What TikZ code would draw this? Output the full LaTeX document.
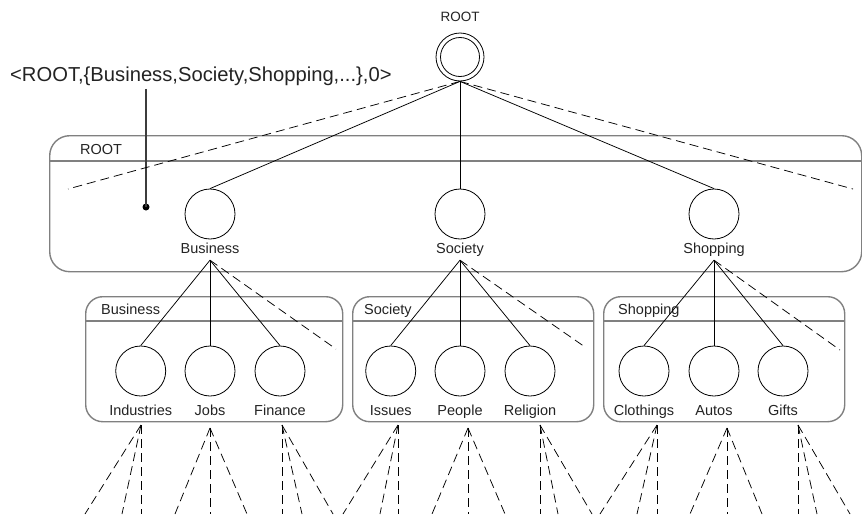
\documentclass[tikz,border=0pt]{standalone}
\usepackage{fontspec}
\setmainfont{Liberation Sans}
\definecolor{boxgray}{RGB}{128,128,128}
\definecolor{pingray}{RGB}{60,60,60}
\definecolor{ink}{RGB}{35,35,35}
\begin{document}
\begin{tikzpicture}[x=1pt,y=-1pt,
  container/.style={draw=boxgray, line width=1.4pt, inner sep=0pt, anchor=north west},
  headline/.style={draw=boxgray, line width=1.4pt},
  leaf/.style={circle, draw, line width=0.8pt, minimum size=50pt, inner sep=0pt},
  lbl/.style={text=ink, font=\fontsize{14.5}{16}\selectfont, text height=11pt, text depth=4pt,
              inner xsep=1pt, inner ysep=3pt, anchor=base},
  ttl/.style={text=ink, font=\fontsize{14.5}{16}\selectfont, inner sep=0pt, anchor=base west},
  edge/.style={line width=0.75pt},
  dedge/.style={line width=0.75pt, dash pattern=on 9pt off 5pt},
]
\useasboundingbox (0,0) rectangle (862,514);

% ---- containers ----
\node[container, rounded corners=20pt, minimum width=812pt, minimum height=136pt] (rootbox) at (49,135) {};
\draw[headline] (rootbox.west |- 0,161) -- (rootbox.east |- 0,161);
\node[ttl] (rootttl) at (80,154) {ROOT};

\node[container, rounded corners=17pt, minimum width=257pt, minimum height=125pt] (busbox) at (85,296) {};
\draw[headline] (busbox.west |- 0,321) -- (busbox.east |- 0,321);
\node[ttl] (busttl) at (101,314) {Business};

\node[container, rounded corners=17pt, minimum width=241pt, minimum height=125pt] (socbox) at (352,296) {};
\draw[headline] (socbox.west |- 0,321) -- (socbox.east |- 0,321);
\node[ttl] (socttl) at (364,314) {Society};

\node[container, rounded corners=17pt, minimum width=241pt, minimum height=125pt] (shopbox) at (603,296) {};
\draw[headline] (shopbox.west |- 0,321) -- (shopbox.east |- 0,321);
\node[ttl] (shopttl) at (618,314) {Shopping};

% ---- root ----
\node[circle, draw, line width=0.8pt, minimum size=48pt, inner sep=0pt] (root) at (460,57) {};
\draw[line width=0.8pt] (root.center) circle (19.5pt);
\node[text=ink, font=\fontsize{13.5}{15}\selectfont, inner sep=0pt, anchor=base] (rootname) at (460,21.5) {ROOT};

% ---- annotation ----
\node[text=ink, font=\fontsize{20.2}{24}\selectfont, inner sep=0pt, anchor=base west] (ann) at (10,81.5)
  {<ROOT,\{Business,Society,Shopping,...\},0>};
\node[circle, fill=black, inner sep=0pt, minimum size=7pt] (pin) at (146,207) {};
\draw[pingray, line width=1.1pt] ([yshift=-3pt]ann.south -| pin.center) -- (pin.center);

% ---- level 1 ----
\node[leaf] (bus) at (210,214) {};
\node[leaf] (soc) at (460,214) {};
\node[leaf] (shop) at (714,214) {};
\node[lbl] (busl) at (210,253) {Business};
\node[lbl] (socl) at (460,253) {Society};
\node[lbl] (shopl) at (714,253) {Shopping};

\coordinate (rootmoreL) at (68,189);
\coordinate (rootmoreR) at (853,189);
\draw[edge] (root.south) -- (bus.north);
\draw[edge] (root.south) -- (soc.north);
\draw[edge] (root.south) -- (shop.north);
\draw[dedge] (root.south) -- (rootmoreL);
\draw[dedge] (root.south) -- (rootmoreR);

% ---- level 2 ----
\foreach \n/\x/\t in {ind/140.7/Industries, job/210/Jobs, fin/280/Finance,
                      iss/390.7/Issues, peo/460/People, rel/530/Religion,
                      clo/644/Clothings, aut/714/Autos, gif/783/Gifts}{
  \node[leaf] (\n) at (\x,371) {};
  \node[lbl] (\n l) at (\x,415) {\t};
}

\coordinate (busmore) at (336,349);
\coordinate (socmore) at (585,347);
\coordinate (shopmore) at (840,350);
\foreach \p/\a/\b/\c/\m in {busl/ind/job/fin/busmore, socl/iss/peo/rel/socmore, shopl/clo/aut/gif/shopmore}{
  \draw[edge] (\p.south) -- (\a.north);
  \draw[edge] (\p.south) -- (\b.north);
  \draw[edge] (\p.south) -- (\c.north);
  \draw[dedge] (\p.south) -- (\m);
}

% ---- open subtrees below the leaves ----
\foreach \n/\ax/\ay/\u/\v/\w in {ind/141/425/85/122/141, job/210/428/175/210/247, fin/282/425/282/302/333,
                               iss/398/425/343/380/398, peo/468/428/432/468/505, rel/540/425/540/558/592,
                               clo/657/425/600/637/657, aut/727/428/690/727/762, gif/798/425/798/817/850}{
  \coordinate (\n fan) at (\ax,\ay);
  \draw[dedge] (\n fan) -- (\u,514);
  \draw[dedge] (\n fan) -- (\v,514);
  \draw[dedge] (\n fan) -- (\w,514);
}
\end{tikzpicture}
\end{document}
